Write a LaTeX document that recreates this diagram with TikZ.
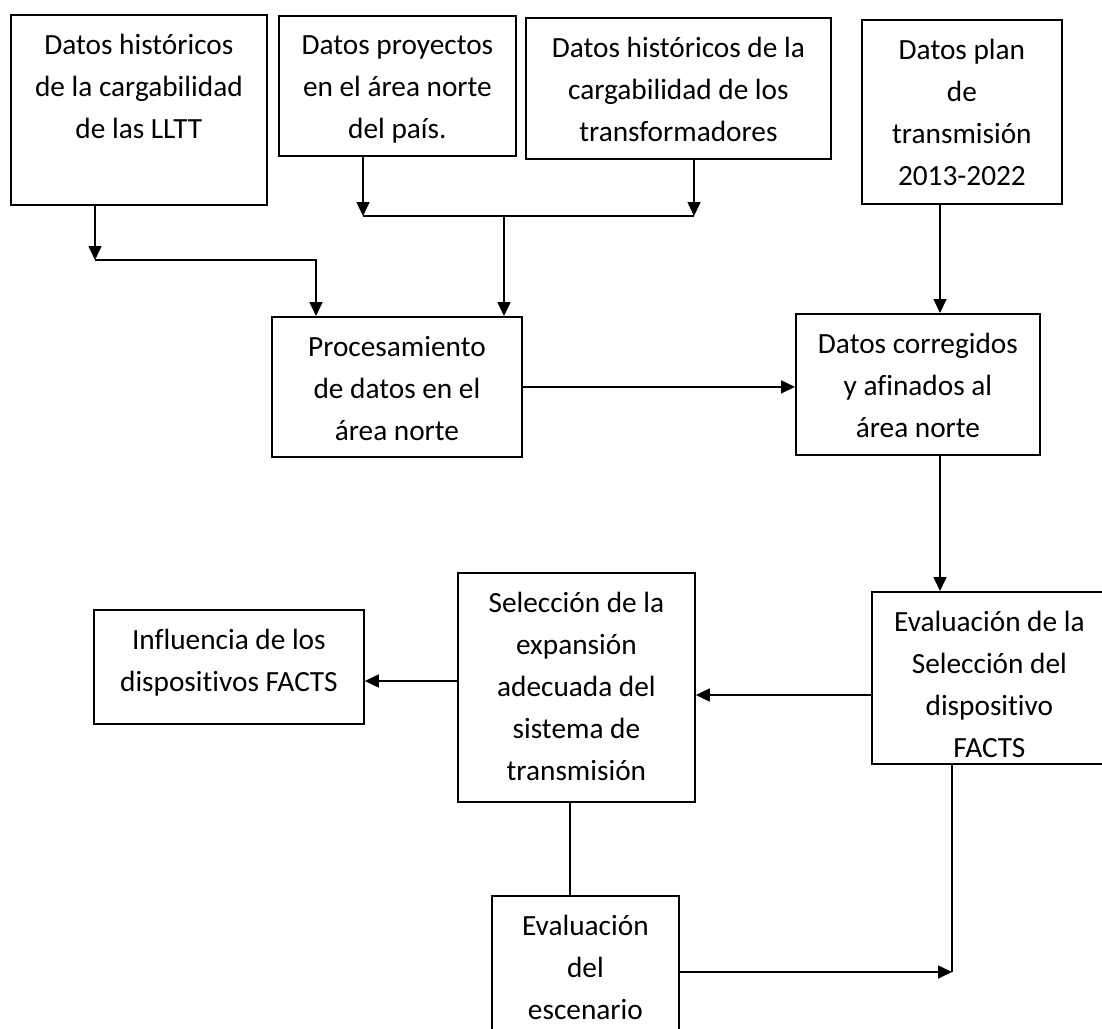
\documentclass[tikz,border=0pt]{standalone}
\usepackage{fontspec}
\newfontfamily\carl[Ligatures=NoCommon]{Carlito}
\usetikzlibrary{arrows.meta}
\begin{document}
\begin{tikzpicture}[x=1pt,y=-1pt,
  box/.style={draw, line width=1.8pt, inner sep=0pt, anchor=north west},
  txt/.style={font=\carl\fontsize{29.3}{42}\selectfont, align=center, inner sep=0pt, anchor=north},
  arr/.style={line width=1.6pt, -{Triangle[length=14pt,width=13pt]}},
  ln/.style={line width=1.6pt},
  thinln/.style={line width=1.2pt}]
\clip (0,0) rectangle (1102,1028);
\fill[white] (0,0) rectangle (1102,1028);
% boxes
\node[box, minimum width=256pt, minimum height=190pt] (b1) at (10,14) {};
\node[box, minimum width=237pt, minimum height=140pt] (b2) at (278,15) {};
\node[box, minimum width=305pt, minimum height=141pt] (b3) at (525,17) {};
\node[box, minimum width=200pt, minimum height=184pt] (b4) at (861,19) {};
\node[box, minimum width=250pt, minimum height=140pt] (b5) at (271,316) {};
\node[box, minimum width=244pt, minimum height=141pt] (b6) at (795,313) {};
\node[box, minimum width=237pt, minimum height=229pt] (b7) at (457,572) {};
\node[box, minimum width=270pt, minimum height=114pt] (b8) at (93,609) {};
\node[box, minimum width=235pt, minimum height=172pt] (b9) at (871,591) {};
\node[box, minimum width=187pt, minimum height=165pt] (b10) at (491,895) {};
% texts
\node[txt] (t1) at ([yshift=-20pt]b1.north) {Datos históricos\\de la cargabilidad\\de las LLTT};
\node[txt] (t2) at ([yshift=-20pt]b2.north) {Datos proyectos\\en el área norte\\del país.};
\node[txt] (t3) at ([yshift=-20pt]b3.north) {Datos históricos de la\\cargabilidad de los\\transformadores};
\node[txt] (t4) at ([yshift=-20pt]b4.north) {Datos plan\\de\\transmisión\\2013-2022};
\node[txt] (t5) at ([yshift=-20pt]b5.north) {Procesamiento\\de datos en el\\área norte};
\node[txt] (t6) at ([yshift=-20pt]b6.north) {Datos corregidos\\y afinados al\\área norte};
\node[txt] (t7) at ([yshift=-20pt]b7.north) {Selección de la\\expansión\\adecuada del\\sistema de\\transmisión};
\node[txt] (t8) at ([yshift=-20pt]b8.north) {Influencia de los\\dispositivos FACTS};
\node[txt] (t9) at ([yshift=-20pt]b9.north) {Evaluación de la\\Selección del\\dispositivo\\FACTS};
\node[txt] (t10) at ([yshift=-20pt]b10.north) {Evaluación\\del\\escenario};
% connectors top
\coordinate (j1) at (95,260);
\coordinate (j1r) at (316,260);
\draw[arr] (j1 |- b1.south) -- (j1);
\draw[arr] (j1) -- (j1r) -- (j1r |- b5.north);
\coordinate (j2) at (363,216);
\coordinate (j3) at (694,216);
\coordinate (j4) at (504,216);
\draw[arr] (j2 |- b2.south) -- (j2);
\draw[arr] (j3 |- b3.south) -- (j3);
\draw[ln] (j2) -- (j3);
\draw[arr] (j4) -- (j4 |- b5.north);
\coordinate (k4) at (940,0);
\draw[arr] (k4 |- b4.south) -- (k4 |- b6.north);
\draw[arr] (b5.east) -- (b5.east -| b6.west);
\draw[arr] (k4 |- b6.south) -- (k4 |- b9.north);
% lower connectors
\coordinate (y1) at (0,695);
\draw[arr] (y1 -| b9.west) -- (y1 -| b7.east);
\coordinate (y2) at (0,681);
\draw[arr] (y2 -| b7.west) -- (y2 -| b8.east);
\coordinate (x7) at (570,0);
\draw[thinln] (x7 |- b7.south) -- (x7 |- b10.north);
\coordinate (c) at (952,972);
\draw[thinln] (c |- b9.south) -- (c);
\draw[arr] (c -| b10.east) -- (c);
\end{tikzpicture}
\end{document}
